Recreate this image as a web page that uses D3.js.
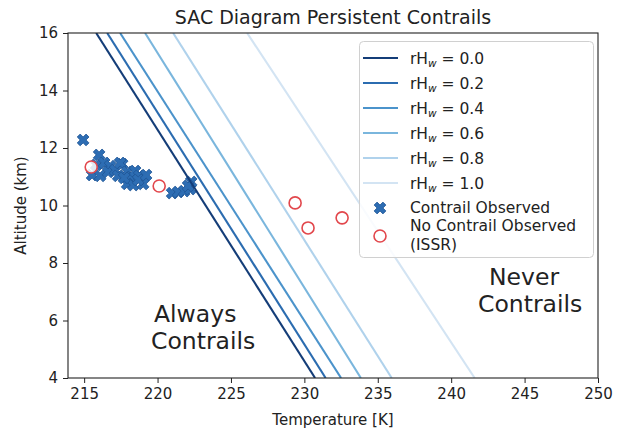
<!DOCTYPE html>
<html><head><meta charset="utf-8">
<script src="https://cdn.jsdelivr.net/npm/d3@7"></script>
<style>body{margin:0;background:#fff} text{font-family:"DejaVu Sans",sans-serif;fill:#222}</style>
</head><body><svg id="c" width="622" height="434"></svg>
<script>
// ---- data ----
const rhValues = [0.0, 0.2, 0.4, 0.6, 0.8, 1.0];
const sacAltitudes = [4, 16];
const sacTempAtBottom = [230.73, 231.45, 232.5, 233.85, 235.95, 241.6];
const sacTempAtTop = [215.82, 216.57, 217.45, 219.15, 221.06, 226.1];
const lineColors = ["#143d78", "#2b6cb0", "#4b93cb", "#7ab6dd", "#b0d2ec", "#d3e4f3"];

const contrailTemp = [214.93, 216.02, 215.82, 216.36, 216.77, 215.54, 216.09, 216.63, 217.11, 217.32, 217.59, 217.45,
  217.93, 218.20, 218.47, 218.75, 217.93, 218.34, 219.02, 218.68, 219.22, 217.72,
  220.99, 221.40, 221.81, 222.22, 222.29, 222.08];
const contrailAlt = [12.28, 11.76, 11.41, 11.48, 11.37, 11.06, 11.03, 11.17, 11.23, 11.03, 11.44, 11.48,
  11.17, 10.99, 11.20, 11.03, 10.75, 10.71, 10.75, 10.89, 11.06, 10.96,
  10.43, 10.47, 10.50, 10.57, 10.82, 10.68];
const noContrailTemp = [215.48, 220.11, 229.37, 230.25, 232.57];
const noContrailAlt = [11.34, 10.68, 10.09, 9.22, 9.57];

const xTicks = [215, 220, 225, 230, 235, 240, 245, 250];
const yTicks = [4, 6, 8, 10, 12, 14, 16];

// ---- layout ----
const L = 68, R = 598, T = 33, B = 378;
const svg = d3.select("#c");
const x = d3.scaleLinear().domain([213.9, 250]).range([L, R]);
const y = d3.scaleLinear().domain([4, 16]).range([B, T]);

svg.append("defs").append("clipPath").attr("id", "clip")
  .append("rect").attr("x", L).attr("y", T).attr("width", R - L).attr("height", B - T);

const plot = svg.append("g").attr("clip-path", "url(#clip)");

// X marker path (matplotlib 'X')
function xMarkerPath(size) {
  const pts = [[-1,-3],[1,-3],[1,-1],[3,-1],[3,1],[1,1],[1,3],[-1,3],[-1,1],[-3,1],[-3,-1],[-1,-1]];
  const c = Math.SQRT1_2, k = size / 6;
  return "M" + pts.map(([a, b]) => [(a - b) * c * k, (a + b) * c * k].map(v => v.toFixed(2)).join(",")).join("L") + "Z";
}
const xPath = xMarkerPath(12.5);

// contrail observed
plot.selectAll(".xo").data(contrailTemp.map((t, i) => [t, contrailAlt[i]])).enter()
  .append("path").attr("d", xPath)
  .attr("transform", d => `translate(${x(d[0])},${y(d[1])})`)
  .attr("fill", "#2d6db3").attr("stroke", "#1f5596").attr("stroke-width", 0.8);

// no contrail observed
plot.selectAll(".no").data(noContrailTemp.map((t, i) => [t, noContrailAlt[i]])).enter()
  .append("circle").attr("cx", d => x(d[0])).attr("cy", d => y(d[1])).attr("r", 6)
  .attr("fill", "rgba(255,255,255,0.85)").attr("stroke", "#e2474c").attr("stroke-width", 1.6);

// SAC lines
const line = d3.line().x(d => x(d[0])).y(d => y(d[1]));
rhValues.forEach((rh, i) => {
  const pts = [[sacTempAtBottom[i], sacAltitudes[0]], [sacTempAtTop[i], sacAltitudes[1]]];
  plot.append("path").attr("d", line(pts)).attr("fill", "none")
    .attr("stroke", lineColors[i]).attr("stroke-width", 2.1);
});

// axes
const xAxis = svg.append("g").attr("transform", `translate(0,${B})`)
  .call(d3.axisBottom(x).tickValues(xTicks).tickSize(5).tickPadding(5).tickFormat(d3.format("d")));
const yAxis = svg.append("g").attr("transform", `translate(${L},0)`)
  .call(d3.axisLeft(y).tickValues(yTicks).tickSize(5).tickPadding(5).tickFormat(d3.format("d")));
[xAxis, yAxis].forEach(g => {
  g.select(".domain").remove();
  g.selectAll("line").attr("stroke", "#222");
  g.selectAll("text").attr("font-size", 15).attr("font-family", "DejaVu Sans").attr("fill", "#222");
});
svg.append("rect").attr("x", L).attr("y", T).attr("width", R - L).attr("height", B - T)
  .attr("fill", "none").attr("stroke", "#222").attr("stroke-width", 1.1);

// labels
svg.append("text").attr("x", (L + R) / 2).attr("y", 24).attr("text-anchor", "middle")
  .attr("font-size", 19).text("SAC Diagram Persistent Contrails");
svg.append("text").attr("x", (L + R) / 2).attr("y", 425).attr("text-anchor", "middle")
  .attr("font-size", 15).text("Temperature [K]");
svg.append("text").attr("transform", `translate(26,${(T + B) / 2}) rotate(-90)`).attr("text-anchor", "middle")
  .attr("font-size", 15).text("Altitude (km)");

// annotations
svg.append("text").attr("x", 154).attr("y", 322).attr("font-size", 23.5).text("Always");
svg.append("text").attr("x", 151).attr("y", 349).attr("font-size", 23.5).text("Contrails");
svg.append("text").attr("x", 489).attr("y", 285).attr("font-size", 23.5).text("Never");
svg.append("text").attr("x", 478).attr("y", 312).attr("font-size", 23.5).text("Contrails");

// legend
const lg = svg.append("g");
lg.append("rect").attr("x", 359.5).attr("y", 41.5).attr("width", 234).attr("height", 216).attr("rx", 4)
  .attr("fill", "rgba(255,255,255,0.85)").attr("stroke", "#d0d0d0");
const rowY = [58, 83, 108, 133, 158, 183];
rhValues.forEach((rh, i) => {
  lg.append("line").attr("x1", 363).attr("x2", 398).attr("y1", rowY[i]).attr("y2", rowY[i])
    .attr("stroke", lineColors[i]).attr("stroke-width", 2.1);
  const t = lg.append("text").attr("x", 410).attr("y", rowY[i] + 5.5).attr("font-size", 15.5);
  t.append("tspan").text("rH");
  t.append("tspan").attr("font-size", 10.5).attr("font-style", "italic").attr("dy", 3.5).text("w");
  t.append("tspan").attr("dy", -3.5).text(" = " + rh.toFixed(1));
});
lg.append("path").attr("d", xPath).attr("transform", "translate(380,208)")
  .attr("fill", "#2d6db3").attr("stroke", "#1f5596").attr("stroke-width", 0.8);
lg.append("text").attr("x", 410).attr("y", 213).attr("font-size", 15.5).text("Contrail Observed");
lg.append("circle").attr("cx", 380).attr("cy", 236).attr("r", 6)
  .attr("fill", "rgba(255,255,255,0.85)").attr("stroke", "#e2474c").attr("stroke-width", 1.6);
lg.append("text").attr("x", 410).attr("y", 231).attr("font-size", 15.5).text("No Contrail Observed");
lg.append("text").attr("x", 410).attr("y", 250).attr("font-size", 15.5).text("(ISSR)");
</script></body></html>
